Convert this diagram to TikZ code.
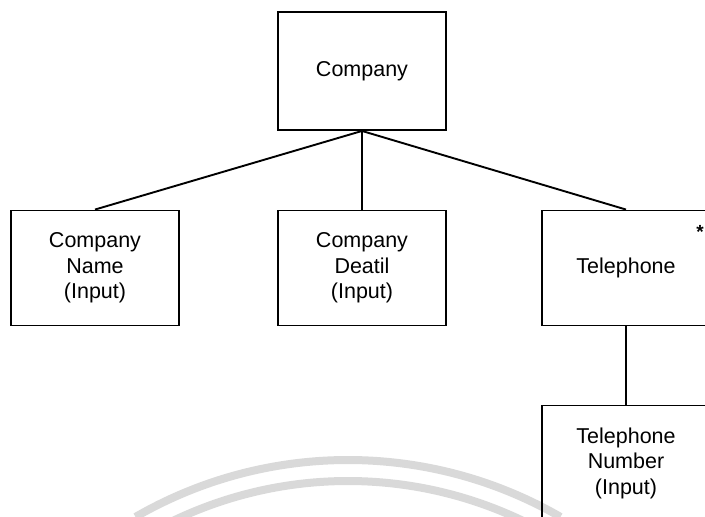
\documentclass[tikz,border=0pt]{standalone}
\usepackage{fontspec}
\setmainfont{Liberation Sans}
\usetikzlibrary{calc}
\tikzset{
  entity/.style={draw, line width=1.9pt, minimum width=168pt, minimum height=115pt,
    inner sep=0pt, align=center, font=\fontsize{21.5}{25.5}\selectfont},
  link/.style={line width=1.9pt},
  wmark/.style={line width=8pt, color=black!15}
}

\begin{document}
\begin{tikzpicture}[x=1pt,y=-1pt]
		%%%%% START %%%%%
		\useasboundingbox (0,0) rectangle (705,517);
		
		\begin{scope}
		\clip (0,0) rectangle (705,517);
		
		% faint watermark
		\draw[wmark] (348,885) ++(240:425) arc (240:300:425);
		\draw[wmark] (348,885) ++(240:404) arc (240:300:404);
		
		\node[entity, minimum height=118pt] (company) at (362, 71) {Company};
		
		\node[entity] (cname) at (95, 268) {Company\\Name\\(Input)};
		\node[entity] (cdetail) at (362, 268) {Company\\Deatil\\(Input)};
		\node[entity] (tel) at (626, 268) {Telephone};
		\node[font=\bfseries\fontsize{19}{19}\selectfont, inner sep=0pt] (many) at (700, 232) {*};
		
		\node[entity] (telnum) at (626, 463) {Telephone\\Number\\(Input)};
		
		\draw[link] (company.south) -- (cname.north);
		\draw[link] (company.south) -- (cdetail.north);
		\draw[link] (company.south) -- (tel.north);
		\draw[link] (tel.south) -- (telnum.north);
		\end{scope}
		%%%%% END %%%%%
\end{tikzpicture}
\end{document}
